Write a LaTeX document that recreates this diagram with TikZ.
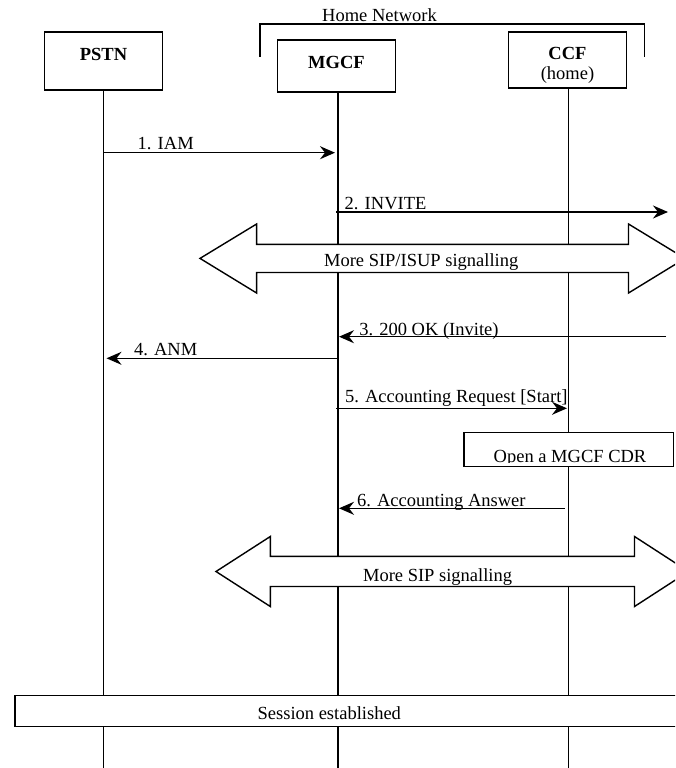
\documentclass[tikz,border=0pt]{standalone}
\usepackage{fontspec}
\setmainfont{Liberation Serif}
\usetikzlibrary{arrows.meta}
\begin{document}
\begin{tikzpicture}[x=1pt,y=-1pt,
  line width=1.4pt,
  every node/.style={font=\fontsize{18.5}{21}\selectfont, inner sep=0pt},
  box/.style={draw, fill=white, line width=1.4pt},
  boldtxt/.style={anchor=base, font=\fontsize{18.5}{21}\selectfont\bfseries},
  txt/.style={anchor=base},
  msg/.style={-{Stealth[length=15pt,width=13pt,inset=5pt]}},
  lbl/.style={anchor=base west},
  bigarrow/.style={draw, fill=white, line width=1.4pt}]
\path[use as bounding box] (0,0) rectangle (675,768);
\clip (0,0) rectangle (675,768);

% entity boxes
\node[box, minimum width=118pt, minimum height=58pt] (pstn) at (103.5,61) {};
\node[boldtxt] (pstnt) at (103.5,60.5) {PSTN};
\node[box, minimum width=118pt, minimum height=52pt] (mgcf) at (336.5,66) {};
\node[boldtxt] (mgcft) at (336.5,68) {MGCF};
\node[box, minimum width=118pt, minimum height=56pt] (ccf) at (567.5,60) {};
\node[boldtxt] (ccft) at (567.5,59.5) {CCF};
\node[txt] (ccfh) at (567.5,80) {(home)};

% home network bracket
\coordinate (hn1) at (260,57);
\coordinate (hn2) at (260,24);
\coordinate (hn3) at (644.4,24);
\coordinate (hn4) at (644.4,57);
\draw (hn1) -- (hn2) -- (hn3) -- (hn4);
\node[txt] (hnt) at (379.5,21.5) {Home Network};

% lifelines
\coordinate (pstnb) at (103.7,768);
\coordinate (mgcfb) at (338,768);
\coordinate (ccfb) at (568.2,768);
\draw (103.7,90) -- (pstnb);
\draw (338,92) -- (mgcfb);
\draw (568.2,88) -- (ccfb);

% big arrow 1
\draw[bigarrow] (200,258.4) -- (256.6,224) -- (256.6,244.3) -- (628.5,244.3) -- (628.5,224)
  -- (685,258.4) -- (628.5,293) -- (628.5,272.5) -- (256.6,272.5) -- (256.6,293) -- cycle;
\node[txt] (sig1) at (421.2,266) {More SIP/ISUP signalling};

% big arrow 2
\draw[bigarrow] (216,571.5) -- (270.3,536.5) -- (270.3,556.3) -- (634.5,556.3) -- (634.5,536.5)
  -- (688.5,571.5) -- (634.5,606.5) -- (634.5,586.5) -- (270.3,586.5) -- (270.3,606.5) -- cycle;
\node[txt] (sig2) at (437.6,581) {More SIP signalling};

% CDR box
\node[box, minimum width=209.7pt, minimum height=33.6pt] (cdr) at (568.85,449.5) {};
\begin{scope}
  \clip (464,433) rectangle (673,462);
  \node[txt] (cdrt) at (570,462.3) {Open a MGCF CDR};
\end{scope}

% session box
\node[box, minimum width=686pt, minimum height=31.3pt, anchor=north west] (sess) at (14.2,694.7) {};
\node[txt] (sesst) at (329.3,719.5) {Session established};

% messages
\coordinate (a1) at (103.7,152.7); \coordinate (b1) at (335,152.7);
\draw[msg] (a1) -- (b1);
\node[lbl] (l1) at (137,149) {1. IAM};

\coordinate (a2) at (336,212); \coordinate (b2) at (668,212);
\draw[msg] (a2) -- (b2);
\node[lbl] (l2) at (344,209) {2. INVITE};

\coordinate (a3) at (666,336.7); \coordinate (b3) at (339,336.7);
\draw[msg] (a3) -- (b3);
\node[lbl] (l3) at (358.6,335) {3. 200 OK (Invite)};

\coordinate (a4) at (338,358.3); \coordinate (b4) at (106.5,358.3);
\draw[msg] (a4) -- (b4);
\node[lbl] (l4) at (133.4,355.5) {4. ANM};

\coordinate (a5) at (336,408.3); \coordinate (b5) at (567,408.3);
\draw[msg] (a5) -- (b5);
\node[lbl] (l5) at (344.4,402.7) {5. Accounting Request [Start]};

\coordinate (a6) at (564.8,508.3); \coordinate (b6) at (339,508.3);
\draw[msg] (a6) -- (b6);
\node[lbl] (l6) at (356.4,506.5) {6. Accounting Answer};
\end{tikzpicture}
\end{document}
